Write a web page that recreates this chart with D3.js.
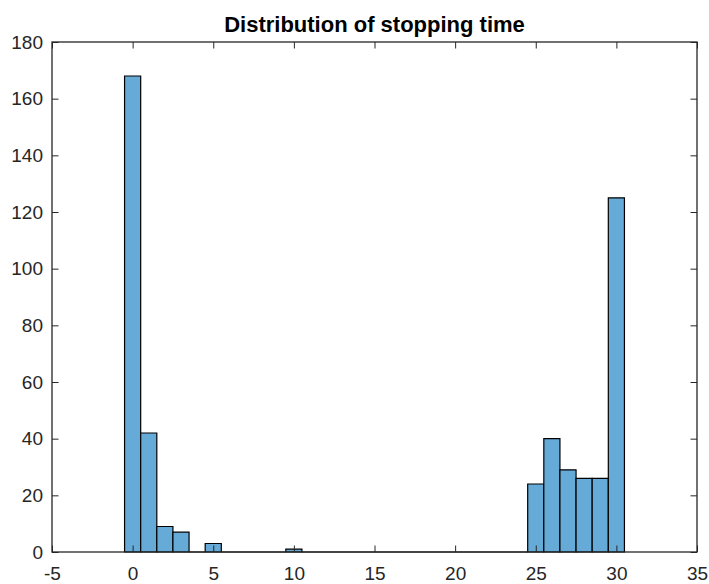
<!DOCTYPE html>
<html><head><meta charset="utf-8">
<script src="https://cdn.jsdelivr.net/npm/d3@7"></script>
<style>body{margin:0;background:#fff}</style>
</head><body>
<svg id="c" width="709" height="584"></svg>
<script>
const binCenters = [0,1,2,3,4,5,6,7,8,9,10,11,12,13,14,15,16,17,18,19,20,21,22,23,24,25,26,27,28,29,30];
const counts =     [168,42,9,7,0,3,0,0,0,0,1,0,0,0,0,0,0,0,0,0,0,0,0,0,0,24,40,29,26,26,125];
const xTicks = [-5,0,5,10,15,20,25,30,35];
const yTicks = [0,20,40,60,80,100,120,140,160,180];
const title = "Distribution of stopping time";

const svg = d3.select("#c");
const L=52, R=697, T=42, B=552;
const x = d3.scaleLinear().domain([-5,35]).range([L,R]);
const y = d3.scaleLinear().domain([0,180]).range([B,T]);
const axisColor = "#262626";
const font = "'Liberation Sans', Arial, sans-serif";
const fmt = d => String(d);

// bars
const g = svg.append("g");
g.selectAll("path.bar").data(binCenters).enter().append("path")
  .attr("d",(c,i)=>{
    const x0=x(c-0.5), x1=x(c+0.5), y0=y(0), y1=y(counts[i]);
    return `M${x0},${y0}V${y1}H${x1}V${y0}Z`;
  })
  .attr("fill","#66aad7").attr("stroke","#000").attr("stroke-width",1.2);

// axes
const tl = 6.5;
const ax = svg.append("g");
const mk = (sel,cfg)=>sel.call(cfg).call(s=>{s.select(".domain").remove();s.selectAll("line").attr("stroke",axisColor);s.selectAll("text").attr("fill",axisColor).style("font-family",font).style("font-size","19px");});
ax.append("g").attr("transform",`translate(0,${B})`).call(s=>mk(s,d3.axisBottom(x).tickValues(xTicks).tickSize(-tl).tickPadding(15).tickFormat(fmt)));
ax.append("g").attr("transform",`translate(0,${T})`).call(s=>mk(s,d3.axisTop(x).tickValues(xTicks).tickSize(-tl).tickFormat("")));
ax.append("g").attr("transform",`translate(${L},0)`).call(s=>mk(s,d3.axisLeft(y).tickValues(yTicks).tickSize(-tl).tickPadding(9).tickFormat(fmt)));
ax.append("g").attr("transform",`translate(${R},0)`).call(s=>mk(s,d3.axisRight(y).tickValues(yTicks).tickSize(-tl).tickFormat("")));
ax.append("rect").attr("x",L).attr("y",T).attr("width",R-L).attr("height",B-T)
  .attr("fill","none").attr("stroke",axisColor).attr("stroke-width",1.3);

svg.append("text").attr("x",(L+R)/2).attr("y",32).attr("text-anchor","middle")
  .style("font-family",font).style("font-size","22px").style("font-weight","bold").attr("fill","#000").text(title);
</script>
</body></html>
